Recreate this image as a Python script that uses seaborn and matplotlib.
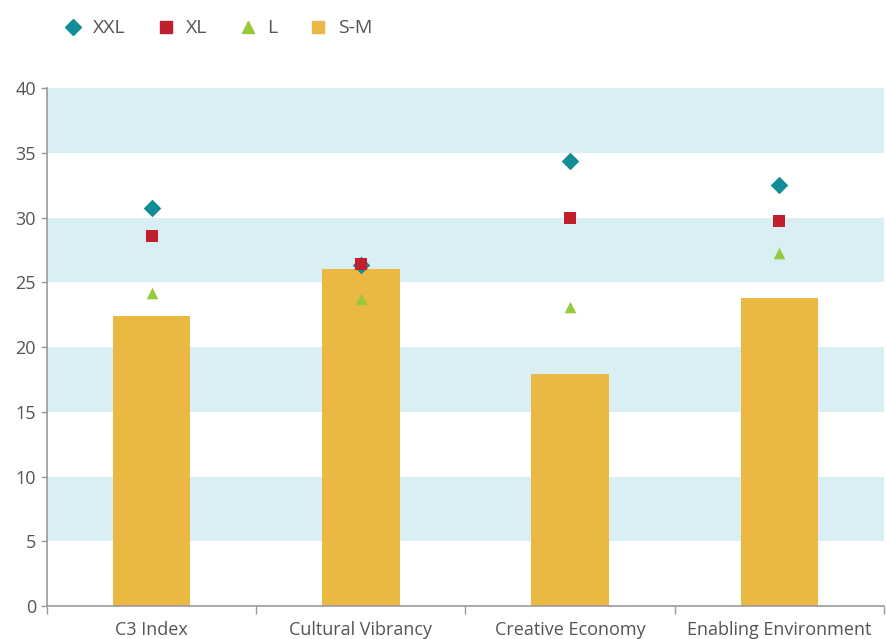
import pandas as pd
import matplotlib.pyplot as plt
import seaborn as sns
from matplotlib.lines import Line2D

categories = ["C3 Index", "Cultural Vibrancy", "Creative Economy", "Enabling Environment"]
sm_values = [22.4, 26.0, 17.9, 23.8]
xxl_values = [30.7, 26.3, 34.4, 32.5]
xl_values = [28.6, 26.4, 30.0, 29.7]
l_values = [24.2, 23.7, 23.1, 27.3]

sns.set_theme(style="white")
plt.rcParams["font.family"] = ["Open Sans", "DejaVu Sans"]

bars = pd.DataFrame({"category": categories, "value": sm_values})
points = pd.DataFrame({
    "category": categories * 3,
    "value": xxl_values + xl_values + l_values,
    "group": ["XXL"] * 4 + ["XL"] * 4 + ["L"] * 4,
})

colors = {"XXL": "#138d96", "XL": "#c11f2e", "L": "#97c93c", "S-M": "#ebb844"}
markers = {"XXL": "D", "XL": "s", "L": "^"}
sizes = {"XXL": 80, "XL": 70, "L": 70}
text_col = "#555555"
axis_col = "#999999"

fig = plt.figure(figsize=(8.87, 6.39), dpi=100)
ax = fig.add_axes([0.053, 0.0516, 0.9435, 0.8106])

for lo in [5, 15, 25, 35]:
    ax.axhspan(lo, lo + 5, color="#d9eff4", lw=0, zorder=0)

sns.barplot(data=bars, x="category", y="value", color=colors["S-M"],
            width=0.37, saturation=1, linewidth=0, ax=ax, zorder=2)

for g in ["XXL", "XL", "L"]:
    sub = points[points["group"] == g]
    sns.scatterplot(data=sub, x="category", y="value", marker=markers[g],
                    color=colors[g], s=sizes[g], linewidth=0, ax=ax, zorder=3)

ax.set_xlim(-0.5, 3.5)
ax.set_ylim(0, 40)
ax.set_yticks(range(0, 41, 5))
ax.set_xlabel("")
ax.set_ylabel("")

for s in ["top", "right"]:
    ax.spines[s].set_visible(False)
for s in ["left", "bottom"]:
    ax.spines[s].set_color(axis_col)
    ax.spines[s].set_linewidth(1.2)

ax.set_xticks([-0.5, 0.5, 1.5, 2.5, 3.5], minor=True)
ax.tick_params(axis="x", which="major", length=0, pad=11, labelsize=13, labelcolor=text_col)
ax.tick_params(axis="x", which="minor", length=6, width=1, color=axis_col, direction="out", bottom=True)
ax.tick_params(axis="y", length=4, width=1, color=axis_col, left=True, labelsize=13, labelcolor=text_col, pad=4)

handles = [
    Line2D([], [], ls="", marker="D", ms=8, color=colors["XXL"]),
    Line2D([], [], ls="", marker="s", ms=8, color=colors["XL"]),
    Line2D([], [], ls="", marker="^", ms=9, color=colors["L"]),
    Line2D([], [], ls="", marker="s", ms=8, color=colors["S-M"]),
]
fig.legend(handles, ["XXL", "XL", "L", "S-M"], loc="upper left",
           bbox_to_anchor=(0.052, 0.997), ncol=4, frameon=False,
           fontsize=14, labelcolor=text_col, handletextpad=0.5,
           columnspacing=1.6, handlelength=1.0)

fig.savefig("out.png", dpi=100)
